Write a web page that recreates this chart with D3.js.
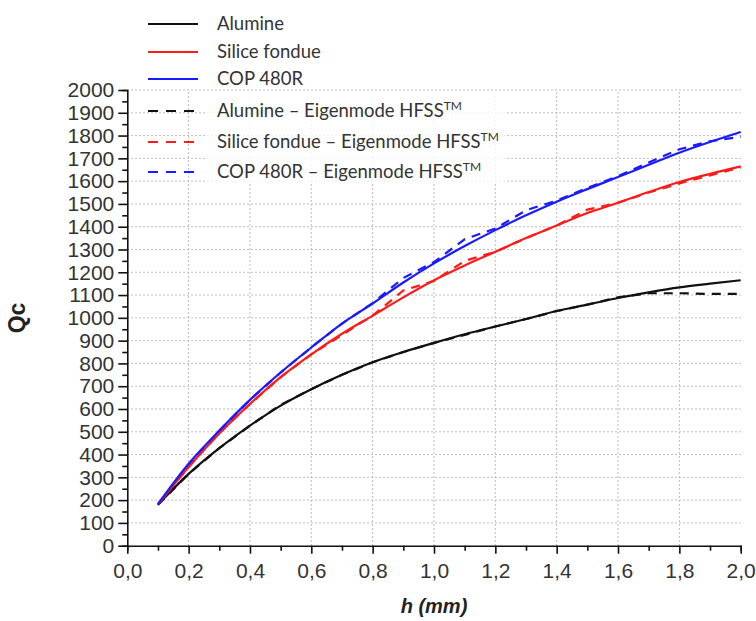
<!DOCTYPE html>
<html><head><meta charset="utf-8">
<script src="https://cdn.jsdelivr.net/npm/d3@7"></script>
<style>body{margin:0;background:#fff}</style>
</head><body>
<svg id="c" width="756" height="621"></svg>
<script>
const hValues = [0.1,0.2,0.3,0.4,0.5,0.6,0.7,0.8,0.9,1.0,1.1,1.2,1.3,1.4,1.5,1.6,1.7,1.8,1.9,2.0];
const alumine = [180,315,428,527,615,687,750,805,850,890,928,962,995,1030,1058,1087,1112,1134,1150,1165];
const silice  = [180,345,492,622,740,840,930,1010,1090,1165,1230,1290,1350,1405,1460,1505,1552,1596,1632,1665];
const cop     = [183,360,505,640,760,870,975,1063,1155,1239,1315,1385,1450,1510,1565,1618,1672,1725,1772,1816];
const alumineHFSS = [180,315,428,527,618,687,750,805,850,890,925,962,995,1030,1058,1090,1108,1108,1105,1105];
const siliceHFSS  = [180,345,495,622,740,840,925,1010,1120,1162,1250,1290,1350,1405,1475,1505,1550,1590,1625,1660];
const copHFSS     = [180,355,505,640,760,870,975,1065,1175,1245,1345,1392,1472,1515,1570,1622,1682,1740,1775,1795];
const xTicks = [0,0.2,0.4,0.6,0.8,1.0,1.2,1.4,1.6,1.8,2.0];
const yTicks = d3.range(0,2001,100);
const seriesNames = ["Alumine","Silice fondue","COP 480R","Alumine – Eigenmode HFSS","Silice fondue – Eigenmode HFSS","COP 480R – Eigenmode HFSS"];
const seriesColors = ["#111111","#ff1a1a","#1a1aff","#111111","#ff1a1a","#1a1aff"];

const svg = d3.select("#c");
const x = d3.scaleLinear().domain([0,2]).range([127.3,740.7]);
const y = d3.scaleLinear().domain([0,2000]).range([545.7,90]);
const fmt = d => d3.format(".1f")(d).replace(".", ",");

// grid
const g = svg.append("g");
g.selectAll(".hg").data(yTicks.filter(v=>v>0)).join("line")
  .attr("x1",x(0)).attr("x2",x(2)).attr("y1",d=>y(d)).attr("y2",d=>y(d))
  .attr("stroke","#aaa").attr("stroke-width",1).attr("stroke-dasharray","1.5,2.5");
g.selectAll(".vg").data(xTicks.filter(v=>v>0 && v<2)).join("line")
  .attr("x1",d=>x(d)).attr("x2",d=>x(d)).attr("y1",y(0)).attr("y2",y(2000))
  .attr("stroke","#aaa").attr("stroke-width",1).attr("stroke-dasharray","1.5,2.5");

// curves
const line = d3.line().x(d=>x(d[0])).y(d=>y(d[1])).curve(d3.curveMonotoneX);
const lineLin = d3.line().x(d=>x(d[0])).y(d=>y(d[1]));
const solid = [alumine, silice, cop];
const dashed = [alumineHFSS, siliceHFSS, copHFSS];
dashed.forEach((s,i)=>{
  svg.append("path").datum(hValues.map((h,j)=>[h,s[j]])).attr("d",lineLin)
    .attr("fill","none").attr("stroke",seriesColors[i+3]).attr("stroke-width",2.2)
    .attr("stroke-dasharray","9,7");
});
solid.forEach((s,i)=>{
  svg.append("path").datum(hValues.map((h,j)=>[h,s[j]])).attr("d",line)
    .attr("fill","none").attr("stroke",seriesColors[i]).attr("stroke-width",2.2);
});

// axes
const xAxis = svg.append("g").attr("transform",`translate(0,${y(0)})`)
  .call(d3.axisBottom(x).tickValues(d3.range(0,2.001,0.1)).tickSize(5).tickFormat(""));
xAxis.selectAll(".tick line").attr("y2",(d)=> Math.round(d*10)%2===0 ? 8 : 5);
const xAx2 = svg.append("g").attr("transform",`translate(0,${y(0)})`)
  .call(d3.axisBottom(x).tickValues(xTicks).tickSize(0).tickPadding(17).tickFormat(fmt));
xAx2.select(".domain").remove();
const yAxis = svg.append("g").attr("transform",`translate(${x(0)},0)`)
  .call(d3.axisLeft(y).tickValues(d3.range(0,2001,50)).tickSize(5).tickFormat(""));
yAxis.selectAll(".tick line").attr("x2",d=> d%100===0 ? -9 : -5);
const yAx2 = svg.append("g").attr("transform",`translate(${x(0)},0)`)
  .call(d3.axisLeft(y).tickValues(yTicks).tickSize(0).tickPadding(13).tickFormat(d3.format("d")));
yAx2.select(".domain").remove();
[xAxis,yAxis].forEach(a=>a.selectAll("path,line").attr("stroke","#111").attr("stroke-width",1.6));
[xAx2,yAx2].forEach(a=>a.selectAll("text").attr("font-family","Liberation Sans, Arial, sans-serif")
  .attr("font-size",21).attr("fill","#333"));

// axis titles
svg.append("text").attr("x",434).attr("y",613).attr("text-anchor","middle")
  .attr("font-family","Liberation Sans, Arial, sans-serif").attr("font-size",20)
  .attr("font-weight","bold").attr("font-style","italic").attr("fill","#222").text("h (mm)");
svg.append("text").attr("transform","translate(25,318) rotate(-90)").attr("text-anchor","middle")
  .attr("font-family","Liberation Sans, Arial, sans-serif").attr("font-size",23)
  .attr("font-weight","bold").attr("fill","#222").text("Qc");

// legend
svg.append("rect").attr("x",206).attr("y",92).attr("width",300).attr("height",92)
  .attr("fill","#fff").attr("opacity",0.8);
const legY = [24,52,79,111,142,172];
const leg = svg.append("g").selectAll("g").data(seriesNames).join("g")
  .attr("transform",(d,i)=>`translate(0,${legY[i]})`);
leg.append("line").attr("x1",148).attr("x2",198).attr("y1",0).attr("y2",0)
  .attr("stroke",(d,i)=>seriesColors[i]).attr("stroke-width",2.2)
  .attr("stroke-dasharray",(d,i)=> i>=3 ? "10,8" : null);
const lt = leg.append("text").attr("x",217).attr("y",6)
  .attr("font-family","Lato, 'Open Sans', sans-serif").attr("font-size",18.5).attr("fill","#333")
  .text(d=>d);
lt.filter((d,i)=>i>=3).append("tspan").attr("font-size",12).attr("dy",-7).text("TM");
</script>
</body></html>
